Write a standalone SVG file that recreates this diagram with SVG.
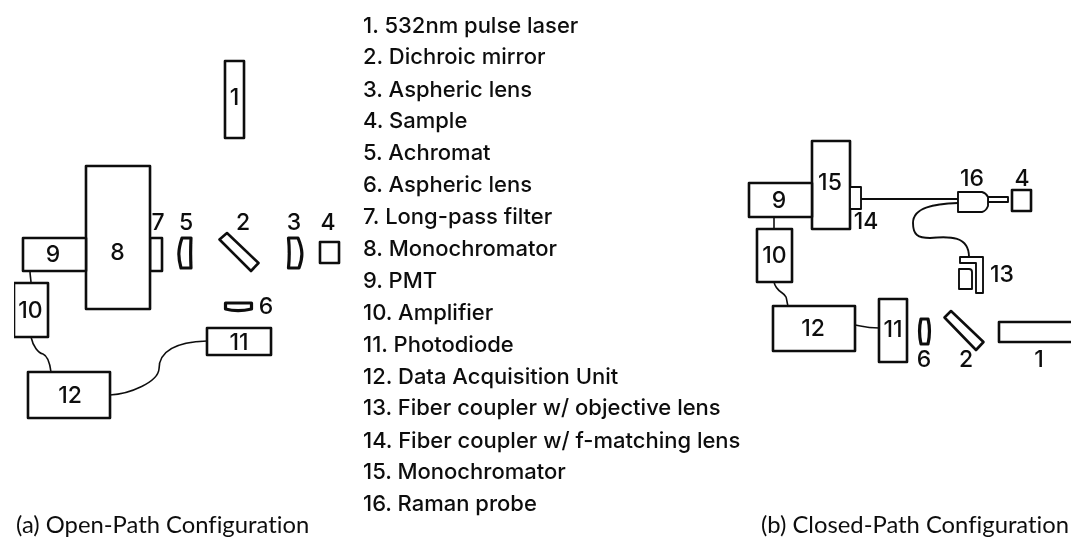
<svg xmlns="http://www.w3.org/2000/svg" width="1071" height="539" viewBox="0 0 1071 539">
<style>
.s{fill:#fff;stroke:#111;stroke-width:2.6;stroke-linejoin:round}
.k{fill:#fff;stroke:#111;stroke-width:3.2;stroke-linejoin:round}
.t{fill:#fff;stroke:#111;stroke-width:1.9;stroke-linejoin:round}
.w{fill:none;stroke:#111;stroke-width:1.6}
.n{font-family:Inter,"Liberation Sans",sans-serif;font-size:23px;font-weight:500;fill:#111;text-anchor:middle;dominant-baseline:central}
.l{font-family:Inter,"Liberation Sans",sans-serif;font-size:22px;font-weight:500;fill:#111}
.c{font-family:Lato,"Open Sans",sans-serif;font-size:23.800px;fill:#111;font-variant-ligatures:none}
</style>
<defs><filter id="soft" x="0" y="0" width="100%" height="100%"><feGaussianBlur stdDeviation="0.35"/></filter></defs>
<rect width="1071" height="539" fill="#fff"/>
<g filter="url(#soft)">
<g id="connectors">
<path class="w" d="M30 271C30 276 31 279 31 283"/>
<path class="w" d="M31 337C33 346 38 353 43 354C48 356 50 364 51 372"/>
<path class="w" d="M110 395C130 394 158 382 159 369C159 352 175 342 207 341"/>
<path class="w" d="M774 217V229"/>
<path class="w" d="M774 282C776 292 784 292 786 297C787 300 787 303 788 306"/>
<path class="w" d="M855 325C865 327 868 328 879 328"/>
<path class="w" d="M861 199H958" style="stroke-width:1.9"/>
<path class="w" d="M958 203C935 204 913 207 913 223C913 235 918 238 930 238C950 236 969 236 969 257" style="stroke-width:1.9"/>
</g>
<g id="a1"><rect class="s" x="225" y="61" width="19" height="77"/><text class="n" x="234.500" y="97">1</text></g>
<g id="a2"><path class="s" d="M227 233L219.500 239.500L251 271L258.500 263Z"/><text class="n" x="243" y="222">2</text></g>
<g id="a3"><path class="k" d="M288.500 238H298C303 250 303 257 299 268H288.500C289.500 258 289.500 248 288.500 238Z"/><text class="n" x="294" y="222">3</text></g>
<g id="a4"><rect class="s" x="320" y="242" width="19" height="21"/><text class="n" x="328" y="222">4</text></g>
<g id="a5"><path class="k" d="M191 238H182C178 250 178 257 181 268H191C190.500 258 190.500 248 191 238Z"/><text class="n" x="186" y="222">5</text></g>
<g id="a6"><path class="k" d="M225.500 303H251.500V309C243 311 233 311 225.500 309Z"/><text class="n" x="266" y="306">6</text></g>
<g id="a7"><rect class="s" x="150" y="238" width="12" height="33"/><text class="n" x="158" y="222">7</text></g>
<g id="a8"><rect class="s" x="86" y="166" width="64" height="143"/><text class="n" x="117.500" y="252">8</text></g>
<g id="a9"><rect class="s" x="23" y="238" width="63" height="33"/><text class="n" x="53" y="254">9</text></g>
<g id="a10"><rect class="s" x="14" y="283" width="34" height="54"/><text class="n" x="30.500" y="310">10</text></g>
<g id="a11"><rect class="s" x="207" y="328" width="64" height="27"/><text class="n" x="239" y="342">11</text></g>
<g id="a12"><rect class="s" x="28" y="372" width="82" height="46"/><text class="n" x="70" y="395">12</text></g>
<g id="b15"><rect class="s" x="812" y="141" width="38" height="88"/><text class="n" x="830" y="182">15</text></g>
<g id="b9"><rect class="s" x="749" y="183" width="63" height="34"/><text class="n" x="779" y="200">9</text></g>
<g id="b14"><rect class="t" x="850" y="187" width="11" height="22"/><text class="n" x="866" y="221">14</text></g>
<g id="b10"><rect class="s" x="757" y="229" width="35" height="53"/><text class="n" x="774.500" y="255">10</text></g>
<g id="b12"><rect class="s" x="773" y="306" width="82" height="45"/><text class="n" x="813" y="328">12</text></g>
<g id="b11"><rect class="s" x="879" y="299" width="28" height="63"/><text class="n" x="893" y="329">11</text></g>
<g id="b6"><path class="k" d="M921 319H928C930 327 930 335 928 344H921C919 335 919 327 921 319Z"/><text class="n" x="924" y="359">6</text></g>
<g id="b2"><path class="s" d="M951 311L944.500 317.500L976 350L983.500 342Z"/><text class="n" x="966" y="359">2</text></g>
<g id="b1"><path class="s" d="M1072 322H999V342H1072"/><text class="n" x="1039" y="359">1</text></g>
<g id="b16"><path class="t" d="M988 197H1008V202H988Z"/><path class="t" d="M958 192H982Q986 193 988 197V206Q986 211 982 212H958Z"/><text class="n" x="972" y="178">16</text></g>
<g id="b4"><rect class="s" x="1012" y="190" width="19" height="21"/><text class="n" x="1022" y="178">4</text></g>
<g id="b13"><path class="t" d="M960 257H983V293H976V263H960Z"/><path class="t" d="M959 269H969Q972 269 972 272V289H959Z"/><text class="n" x="1002" y="274">13</text></g>
<g id="legend" class="l">
<text x="363" y="33">1. 532nm pulse laser</text>
<text x="363" y="64">2. Dichroic mirror</text>
<text x="363" y="97">3. Aspheric lens</text>
<text x="363" y="128">4. Sample</text>
<text x="363" y="160">5. Achromat</text>
<text x="363" y="192">6. Aspheric lens</text>
<text x="363" y="224">7. Long-pass filter</text>
<text x="363" y="256">8. Monochromator</text>
<text x="363" y="288">9. PMT</text>
<text x="363" y="320">10. Amplifier</text>
<text x="363" y="352">11. Photodiode</text>
<text x="363" y="384">12. Data Acquisition Unit</text>
<text x="363" y="415">13. Fiber coupler w/ objective lens</text>
<text x="363" y="448">14. Fiber coupler w/ f-matching lens</text>
<text x="363" y="479">15. Monochromator</text>
<text x="363" y="511">16. Raman probe</text>
</g>
<text class="c" x="16" y="533">(a) Open-Path Configuration</text>
<text class="c" x="761" y="533">(b) Closed-Path Configuration</text>
</g>
</svg>
